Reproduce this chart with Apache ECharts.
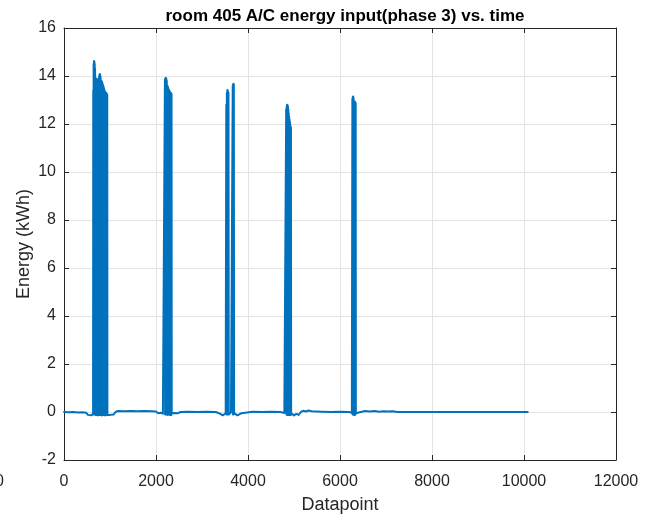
<!DOCTYPE html>
<html>
<head>
<meta charset="utf-8">
<script src="https://cdn.jsdelivr.net/npm/echarts@6/dist/echarts.min.js"></script>
<style>
html,body{margin:0;padding:0;background:#fff;}
#c{width:654px;height:519px;}
</style>
</head>
<body>
<div id="c"></div>
<script>
var titleText = 'room 405 A/C energy input(phase 3) vs. time';
var xName = 'Datapoint';
var yName = 'Energy (kWh)';
var xTicks = [0, 2000, 4000, 6000, 8000, 10000, 12000];
var yTicks = [-2, 0, 2, 4, 6, 8, 10, 12, 14, 16];

// baseline segments and on-bursts (datapoint, kWh)
var baseStart = [[1,0.0],[100,-0.01],[200,0.0],[300,-0.02],[400,-0.01],[480,-0.03],[520,-0.12],[560,-0.1],[600,-0.14],[624,-0.08]];
var burst1 = [[632,-0.05],[636,13.4],[640,-0.1],[644,14.5],[648,-0.1],[652,14.62],[656,-0.08],[660,14.6],[664,-0.1],[668,14.5],[672,-0.1],[676,14.3],[680,-0.1],[684,13.9],[688,-0.12],[692,13.85],[696,-0.1],[700,13.9],[704,-0.12],[708,13.8],[712,-0.1],[716,13.85],[720,-0.12],[724,13.8],[728,-0.1],[732,13.85],[736,-0.15],[740,13.75],[744,-0.1],[748,13.7],[752,-0.12],[756,13.9],[760,-0.1],[764,14.0],[768,-0.12],[772,14.05],[776,-0.1],[780,14.08],[784,-0.12],[788,14.05],[792,-0.1],[796,13.95],[800,-0.12],[804,13.8],[808,-0.1],[812,13.8],[816,-0.15],[820,13.78],[824,-0.1],[828,13.75],[832,-0.12],[836,13.7],[840,-0.1],[844,13.65],[848,-0.12],[852,13.6],[856,-0.1],[860,13.55],[864,-0.12],[868,13.5],[872,-0.1],[876,13.45],[880,-0.12],[884,13.38],[888,-0.1],[892,13.35],[896,-0.15],[900,13.32],[904,-0.1],[908,13.3],[912,-0.12],[916,13.3],[920,-0.1],[924,13.28],[928,-0.12],[932,13.25],[936,-0.1],[940,13.22],[944,-0.12]];
var base2 = [[960,-0.16],[1000,-0.12],[1040,-0.17],[1080,-0.1],[1120,0.0],[1175,0.04],[1300,0.03],[1450,0.04],[1600,0.03],[1750,0.04],[1900,0.03],[2000,0.02],[2050,-0.05],[2100,-0.03],[2150,-0.07],[2185,-0.04]];
var burst2 = [[2190,-0.05],[2194,13.85],[2198,-0.1],[2202,13.9],[2206,-0.1],[2210,13.92],[2214,-0.08],[2218,13.92],[2222,-0.1],[2226,13.88],[2230,-0.08],[2234,13.8],[2238,-0.1],[2242,13.6],[2246,-0.1],[2250,13.58],[2254,-0.12],[2258,13.56],[2262,-0.1],[2266,13.5],[2270,-0.1],[2274,13.45],[2278,-0.1],[2282,13.42],[2286,-0.1],[2290,13.4],[2294,-0.1],[2298,13.36],[2302,-0.12],[2306,13.32],[2310,-0.1],[2314,13.3],[2318,-0.1],[2322,13.3],[2326,-0.1],[2330,13.28],[2334,-0.12],[2338,13.25],[2342,-0.05]];
var base3 = [[2370,-0.1],[2400,-0.04],[2440,-0.1],[2480,-0.05],[2530,0.0],[2700,0.01],[2900,0.0],[3100,0.01],[3300,0.0],[3400,-0.08],[3450,-0.14],[3490,-0.1],[3515,-0.06]];
var burst3a = [[3522,-0.05],[3528,12.8],[3534,-0.1],[3540,13.3],[3546,-0.1],[3552,13.42],[3558,-0.1],[3564,13.38],[3570,-0.1],[3576,13.3],[3582,-0.1]];
var base4 = [[3600,-0.05],[3630,-0.02],[3655,-0.05]];
var burst3b = [[3662,-0.05],[3668,13.6],[3674,-0.1],[3680,13.68],[3686,-0.1],[3692,13.66],[3698,-0.05]];
var base5 = [[3730,-0.08],[3770,-0.14],[3810,-0.1],[3860,-0.05],[3900,0.0],[4100,0.01],[4300,0.0],[4500,0.01],[4700,0.0],[4790,-0.04],[4820,-0.06]];
var burst4 = [[4826,-0.05],[4830,12.6],[4834,-0.1],[4838,12.7],[4842,-0.1],[4846,12.78],[4850,-0.12],[4854,12.8],[4858,-0.1],[4862,12.78],[4866,-0.1],[4870,12.72],[4874,-0.1],[4878,12.6],[4882,-0.12],[4886,12.45],[4890,-0.1],[4894,12.3],[4898,-0.12],[4902,12.2],[4906,-0.1],[4910,12.1],[4914,-0.12],[4918,12.0],[4922,-0.1],[4926,11.9],[4930,-0.12],[4934,11.85],[4938,-0.05]];
var base6 = [[4960,-0.1],[5000,-0.14],[5050,-0.08],[5100,-0.12],[5150,0.0],[5200,0.05],[5260,0.02],[5320,0.06],[5380,0.03],[5420,0.0],[5600,0.01],[5800,0.0],[6000,0.01],[6200,0.0],[6258,-0.03]];
var burst5 = [[6265,-0.05],[6269,13.05],[6273,-0.1],[6277,13.12],[6281,-0.1],[6285,13.15],[6289,-0.1],[6293,13.1],[6297,-0.1],[6301,12.98],[6305,-0.12],[6309,12.95],[6313,-0.1],[6317,12.95],[6321,-0.12],[6325,12.92],[6329,-0.1],[6333,12.9],[6337,-0.1],[6341,12.88],[6345,-0.05]];
var base7 = [[6380,0.03],[6450,0.0],[6550,0.04],[6650,0.02],[6750,0.04],[6850,0.01],[6950,0.03],[7050,0.02],[7150,0.03],[7240,0.0],[8000,0.0],[9000,0.0],[10080,0.0]];

var energy = [].concat(baseStart, burst1, base2, burst2, base3, burst3a, base4, burst3b, base5, burst4, base6, burst5, base7);

var font = 'Liberation Sans, Arial, Helvetica, sans-serif';
var axisColor = '#262626';
var chart = echarts.init(document.getElementById('c'), null, {renderer:'canvas'});
chart.setOption({
  animation:false,
  backgroundColor:'#ffffff',
  title:{
    text:titleText, left:340, top:3, textAlign:'center',
    textStyle:{fontFamily:font, fontSize:17, fontWeight:'bold', color:'#000'}
  },
  grid:{left:64, right:38, top:28, bottom:58},
  xAxis:[{
    type:'value', min:xTicks[0], max:xTicks[xTicks.length-1], interval:2000,
    name:xName, nameLocation:'middle', nameGap:36, nameMoveOverlap:false,
    nameTextStyle:{fontFamily:font, fontSize:18, color:axisColor},
    axisLine:{show:true, onZero:false, lineStyle:{color:axisColor, width:1}},
    axisTick:{show:true, inside:true, length:5, lineStyle:{color:axisColor}},
    axisLabel:{fontFamily:font, fontSize:16, color:axisColor, margin:14, formatter:function(v){return String(v);}},
    splitLine:{show:true, lineStyle:{color:'#e3e3e3', width:1}}
  },{
    type:'value', position:'top', min:xTicks[0], max:xTicks[xTicks.length-1], interval:2000,
    axisLine:{show:true, onZero:false, lineStyle:{color:axisColor, width:1}},
    axisTick:{show:true, inside:true, length:5, lineStyle:{color:axisColor}},
    axisLabel:{show:false}, splitLine:{show:false}
  }],
  yAxis:[{
    type:'value', min:yTicks[0], max:yTicks[yTicks.length-1], interval:2,
    name:yName, nameLocation:'middle', nameGap:31, nameRotate:90, nameMoveOverlap:false,
    nameTextStyle:{fontFamily:font, fontSize:18, color:axisColor},
    axisLine:{show:true, onZero:false, lineStyle:{color:axisColor, width:1}},
    axisTick:{show:true, inside:true, length:5, lineStyle:{color:axisColor}},
    axisLabel:{fontFamily:font, fontSize:16, color:axisColor, margin:8},
    splitLine:{show:true, lineStyle:{color:'#e3e3e3', width:1}}
  },{
    type:'value', position:'right', min:yTicks[0], max:yTicks[yTicks.length-1], interval:2,
    axisLine:{show:true, onZero:false, lineStyle:{color:axisColor, width:1}},
    axisTick:{show:true, inside:true, length:5, lineStyle:{color:axisColor}},
    axisLabel:{show:false}, splitLine:{show:false}
  }],
  graphic:[{
    type:'text', left:-5, top:474,
    style:{text:'0', font:'16px ' + font, fill:axisColor}
  }],
  series:[{
    type:'line', data:energy, xAxisIndex:0, yAxisIndex:0,
    showSymbol:false, symbol:'none', sampling:null,
    lineStyle:{color:'#0072BD', width:2, join:'round', cap:'round'},
    clip:true
  }]
});
</script>
</body>
</html>
